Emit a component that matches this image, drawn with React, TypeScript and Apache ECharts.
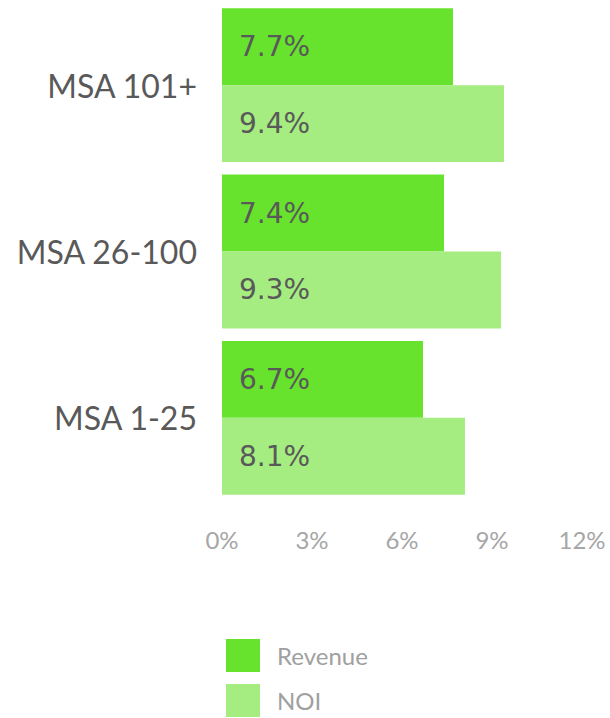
import React, { useEffect, useRef } from "react";
import * as echarts from "echarts";

const categories = ["MSA 1-25", "MSA 26-100", "MSA 101+"];
const revenue = [6.7, 7.4, 7.7];
const noi = [8.1, 9.3, 9.4];
const xTicks = [0, 3, 6, 9, 12];

export default function App() {
  const ref = useRef<HTMLDivElement>(null);
  useEffect(() => {
    document.body.style.margin = "0";
    const chart = echarts.init(ref.current!, null, { renderer: "svg" });
    const labelCfg = {
      show: true,
      position: "insideLeft",
      distance: 17,
      color: "#595959",
      fontFamily: "DejaVu Sans",
      fontSize: 28,
      formatter: (p: any) => p.value.toFixed(1) + "%",
    };
    chart.setOption({
      animation: false,
      grid: { left: 222, right: 28, top: 2, bottom: 217, containLabel: false },
      legend: {
        orient: "vertical",
        left: 226,
        top: 639,
        padding: 0,
        itemWidth: 34,
        itemHeight: 33,
        itemGap: 12,
        icon: "rect",
        data: ["Revenue", "NOI"],
        textStyle: {
          color: "#a0a0a0",
          fontFamily: "Lato",
          fontSize: 24,
          padding: [0, 0, 0, 12],
        },
      },
      xAxis: {
        type: "value",
        min: xTicks[0],
        max: xTicks[xTicks.length - 1],
        interval: 3,
        axisLine: { show: false },
        axisTick: { show: false },
        splitLine: { show: false },
        axisLabel: {
          formatter: (v: number) => v + "%",
          color: "#a6a6a6",
          fontFamily: "Lato",
          fontSize: 24,
          margin: 26,
        },
      },
      yAxis: {
        type: "category",
        data: categories,
        axisLine: { show: false },
        axisTick: { show: false },
        axisLabel: {
          color: "#595959",
          fontFamily: "Lato",
          fontSize: 32,
          margin: 25,
        },
      },
      series: [
        {
          name: "Revenue",
          type: "bar",
          data: revenue,
          itemStyle: { color: "#67e32d" },
          label: labelCfg,
          barGap: "0%",
          barCategoryGap: "7.5%",
        },
        {
          name: "NOI",
          type: "bar",
          data: noi,
          itemStyle: { color: "#a5ed80" },
          label: labelCfg,
          barGap: "0%",
          barCategoryGap: "7.5%",
        },
      ],
    });
    return () => chart.dispose();
  }, []);
  return <div ref={ref} style={{ width: 610, height: 718 }} />;
}
